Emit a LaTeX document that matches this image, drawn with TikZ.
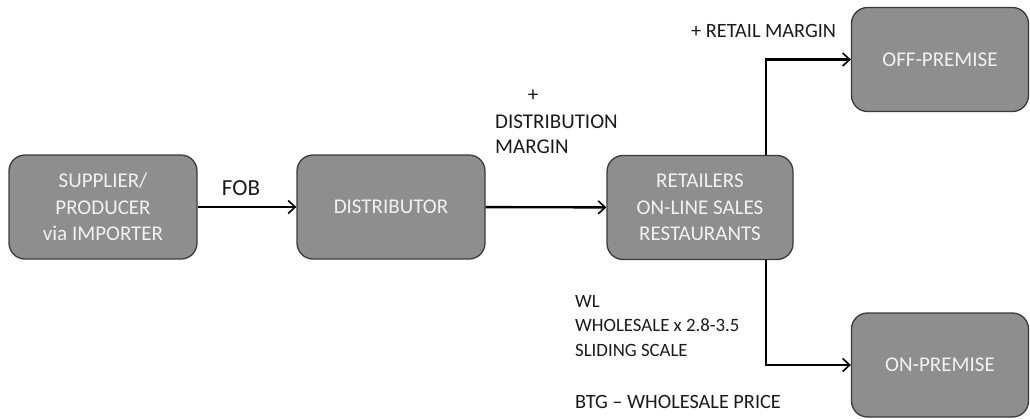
\documentclass[tikz,border=0pt]{standalone}
\usepackage{fontspec}
\setmainfont{Carlito}
\usetikzlibrary{arrows.meta}
\definecolor{boxfill}{HTML}{8E8E8E}
\definecolor{boxdraw}{HTML}{3A3A3A}
\definecolor{boxtext}{HTML}{F2F2F2}
\definecolor{lbl}{HTML}{1A1A1A}
\tikzset{
  stagebox/.style={draw=boxdraw, fill=boxfill, line width=1.3pt, rounded corners=16pt,
    minimum width=#1, minimum height=104pt, inner sep=0pt, align=center,
    text=boxtext, font=\fontsize{21pt}{26.5pt}\selectfont},
  stagebox/.default=188pt,
  flow/.style={line width=2.4pt, draw=black, -{Straight Barb[length=7pt,width=13pt,line width=1.6pt]}},
  note/.style={text=lbl, font=\fontsize{21pt}{25pt}\selectfont, inner sep=0pt, align=left}
}
\begin{document}
\begin{tikzpicture}[x=1pt,y=-1pt]
\useasboundingbox (0,0) rectangle (1030,418);
\node[stagebox] (sup) at (103,207) {SUPPLIER/\\PRODUCER\\via IMPORTER};
\node[stagebox] (dist) at (391,207) {DISTRIBUTOR};
\node[stagebox=186pt] (ret) at (700,207.5) {RETAILERS\\ON-LINE SALES\\RESTAURANTS};
\node[stagebox=177pt] (off) at (940,59.5) {OFF-PREMISE};
\node[stagebox=177pt] (on) at (940,365) {ON-PREMISE};
\draw[flow] (sup) -- (dist);
\draw[flow] (dist) -- (ret);
\coordinate (ctop) at (766,59.5);
\coordinate (cbot) at (766,365);
\draw[flow] (ret.north -| ctop) -- (ctop) -- (off.west);
\draw[flow] (ret.south -| cbot) -- (cbot) -- (on.west);
\node[text=lbl, font=\fontsize{23pt}{26pt}\selectfont, inner sep=0pt] (fob) at (241,188) {FOB};
\node[note, anchor=base west] (dm) at (495,153) {DISTRIBUTION\\MARGIN};
\node[note, inner sep=0pt] (plus) at (533,96) {+};
\node[note, anchor=base west, font=\fontsize{20.3pt}{24pt}\selectfont] (rm) at (691,37) {+ RETAIL MARGIN};
\node[note, anchor=base west, font=\fontsize{18.8pt}{24.5pt}\selectfont] (wl) at (575,356) {WL\\WHOLESALE x 2.8-3.5\\SLIDING SCALE};
\node[note, anchor=base west, font=\fontsize{20.3pt}{24pt}\selectfont] (btg) at (575,408) {BTG – WHOLESALE PRICE};
\end{tikzpicture}
\end{document}
